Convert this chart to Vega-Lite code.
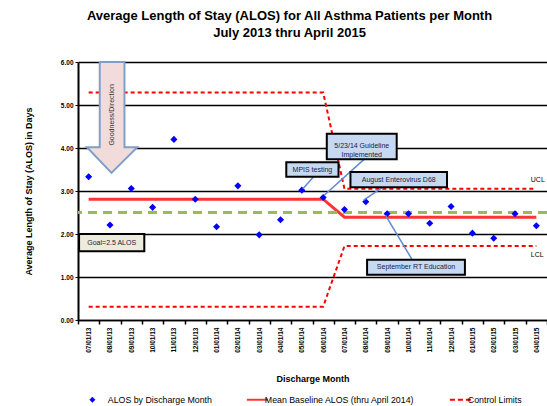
{
  "$schema": "https://vega.github.io/schema/vega-lite/v6.json",
  "width": 469,
  "height": 258,
  "autosize": {"type": "none"},
  "padding": {"left": 78, "top": 62, "right": 0, "bottom": 86},
  "background": "white",
  "config": {"font": "Liberation Sans", "view": {"stroke": null}},
  "title": {
    "text": ["Average Length of Stay (ALOS) for All Asthma Patients per Month", "July 2013 thru April 2015"],
    "fontSize": 13, "fontWeight": "bold", "color": "#000", "anchor": "middle", "dx": -23, "offset": 18, "lineHeight": 17, "frame": "group"
  },
  "datasets": {
    "main": [
      {"month": "07/01/13", "alos": 3.33, "mean": 2.81, "ucl": 5.29, "lcl": 0.31},
      {"month": "08/01/13", "alos": 2.21, "mean": 2.81, "ucl": 5.29, "lcl": 0.31},
      {"month": "09/01/13", "alos": 3.06, "mean": 2.81, "ucl": 5.29, "lcl": 0.31},
      {"month": "10/01/13", "alos": 2.62, "mean": 2.81, "ucl": 5.29, "lcl": 0.31},
      {"month": "11/01/13", "alos": 4.20, "mean": 2.81, "ucl": 5.29, "lcl": 0.31},
      {"month": "12/01/13", "alos": 2.81, "mean": 2.81, "ucl": 5.29, "lcl": 0.31},
      {"month": "01/01/14", "alos": 2.17, "mean": 2.81, "ucl": 5.29, "lcl": 0.31},
      {"month": "02/01/14", "alos": 3.12, "mean": 2.81, "ucl": 5.29, "lcl": 0.31},
      {"month": "03/01/14", "alos": 1.98, "mean": 2.81, "ucl": 5.29, "lcl": 0.31},
      {"month": "04/01/14", "alos": 2.33, "mean": 2.81, "ucl": 5.29, "lcl": 0.31},
      {"month": "05/01/14", "alos": 3.02, "mean": 2.81, "ucl": 5.29, "lcl": 0.31},
      {"month": "06/01/14", "alos": 2.85, "mean": 2.81, "ucl": 5.29, "lcl": 0.31},
      {"month": "07/01/14", "alos": 2.57, "mean": 2.39, "ucl": 3.05, "lcl": 1.72},
      {"month": "08/01/14", "alos": 2.75, "mean": 2.39, "ucl": 3.05, "lcl": 1.72},
      {"month": "09/01/14", "alos": 2.47, "mean": 2.39, "ucl": 3.05, "lcl": 1.72},
      {"month": "10/01/14", "alos": 2.47, "mean": 2.39, "ucl": 3.05, "lcl": 1.72},
      {"month": "11/01/14", "alos": 2.25, "mean": 2.39, "ucl": 3.05, "lcl": 1.72},
      {"month": "12/01/14", "alos": 2.64, "mean": 2.39, "ucl": 3.05, "lcl": 1.72},
      {"month": "01/01/15", "alos": 2.02, "mean": 2.39, "ucl": 3.05, "lcl": 1.72},
      {"month": "02/01/15", "alos": 1.90, "mean": 2.39, "ucl": 3.05, "lcl": 1.72},
      {"month": "03/01/15", "alos": 2.47, "mean": 2.39, "ucl": 3.05, "lcl": 1.72},
      {"month": "04/01/15", "alos": 2.19, "mean": 2.39, "ucl": 3.05, "lcl": 1.72}
    ],
    "arrow": [
      {"i": 0, "x": 1.02, "y": 6.0},
      {"i": 1, "x": 2.18, "y": 6.0},
      {"i": 2, "x": 2.18, "y": 4.02},
      {"i": 3, "x": 2.78, "y": 4.02},
      {"i": 4, "x": 1.57, "y": 3.42},
      {"i": 5, "x": 0.42, "y": 4.02},
      {"i": 6, "x": 1.02, "y": 4.02},
      {"i": 7, "x": 1.02, "y": 6.0}
    ],
    "boxes": [
      {"x1": 0.05, "x2": 3.11, "y1": 2.0, "y2": 1.6, "label": "Goal=2.5 ALOS", "fill": "#ecebdc"},
      {"x1": 9.77, "x2": 12.22, "y1": 3.67, "y2": 3.33, "label": "MPIS testing", "fill": "#c6d9f1"},
      {"x1": 11.67, "x2": 14.95, "y1": 4.33, "y2": 3.74, "label": "5/23/14 Guideline\nImplemented", "fill": "#c6d9f1"},
      {"x1": 12.78, "x2": 17.31, "y1": 3.44, "y2": 3.09, "label": "August Enterovirus D68", "fill": "#c6d9f1"},
      {"x1": 13.56, "x2": 18.15, "y1": 1.40, "y2": 1.05, "label": "September RT Education", "fill": "#c6d9f1"}
    ],
    "connectors": [
      {"xa": 11.05, "ya": 3.33, "xb": 10.55, "yb": 3.05},
      {"xa": 13.43, "ya": 3.74, "xb": 11.55, "yb": 2.9},
      {"xa": 14.3, "ya": 3.09, "xb": 13.4, "yb": 2.79},
      {"xa": 15.68, "ya": 1.40, "xb": 14.42, "yb": 2.44}
    ],
    "limitLabels": [
      {"x": 21.24, "y": 3.26, "label": "UCL"},
      {"x": 21.24, "y": 1.51, "label": "LCL"}
    ],
    "arrowText": [
      {"x": 1.6, "y": 4.77, "label": "Goodness/Direction"}
    ]
  },
  "layer": [
    {
      "layer": [
        {
          "data": {"name": "main"},
          "mark": {"type": "line", "color": "#ff0000", "strokeWidth": 2, "strokeDash": [4, 3]},
          "encoding": {
            "x": {"field": "month", "type": "ordinal", "sort": null, "title": "Discharge Month",
              "scale": {"paddingInner": 0, "paddingOuter": 0},
              "axis": {"tickBand": "extent", "labelAngle": 270, "labelFontSize": 6.5, "labelFontWeight": "bold", "labelColor": "#000",
                "domainColor": "#000", "domainWidth": 1.5, "tickColor": "#000", "tickWidth": 1.5, "tickSize": 4, "labelPadding": 3,
                "titleFontSize": 9, "titleFontWeight": "bold", "titlePadding": 22, "titleColor": "#000", "grid": false}},
            "y": {"field": "ucl", "type": "quantitative", "title": "Average Length of Stay (ALOS) in Days",
              "scale": {"domain": [0, 6], "nice": false},
              "axis": {"values": [0, 1, 2, 3, 4, 5, 6], "format": ".2f", "grid": true, "gridColor": "#000", "gridWidth": 1.5, "gridOpacity": 1,
                "labelFontSize": 6.5, "labelFontWeight": "bold", "labelColor": "#000", "domainColor": "#000", "domainWidth": 2,
                "tickColor": "#000", "tickSize": 3, "labelPadding": 2, "titleFontSize": 9, "titleFontWeight": "bold", "titlePadding": 27, "titleColor": "#000"}},
            "color": {"datum": "Control Limits", "type": "nominal",
              "scale": {"domain": ["ALOS by Discharge Month", "Mean Baseline ALOS (thru April 2014)", "Control Limits"], "range": ["#0000ff", "#ff3333", "#ff0000"]},
              "legend": {"orient": "none", "legendX": 10, "legendY": 333, "direction": "horizontal", "title": null, "symbolSize": 441,
                "labelFontSize": 8.8, "labelColor": "#000", "labelOffset": 3, "labelBaseline": "middle", "columnPadding": 30, "symbolStrokeWidth": 2,
                "encode": {
                  "symbols": {"update": {
                    "shape": {"signal": "datum.value === 'ALOS by Discharge Month' ? 'diamond' : 'stroke'"},
                    "size": {"signal": "datum.value === 'ALOS by Discharge Month' ? 30 : 441"},
                    "fill": {"signal": "datum.value === 'ALOS by Discharge Month' ? '#0000ff' : 'transparent'"},
                    "stroke": {"signal": "datum.value === 'ALOS by Discharge Month' ? '#0000ff' : '#ff0000'"},
                    "strokeDash": {"signal": "datum.value === 'Control Limits' ? [5, 3] : [1, 0]"},
                    "strokeWidth": {"signal": "datum.value === 'ALOS by Discharge Month' ? 0.5 : 2"},
                    "opacity": {"value": 1}
                  }},
                  "labels": {"update": {
                    "dx": {"signal": "datum.value === 'ALOS by Discharge Month' ? 8 : 0"}
                  }}
                }}}
          }
        },
        {
          "data": {"name": "main"},
          "mark": {"type": "line", "color": "#ff0000", "strokeWidth": 2, "strokeDash": [4, 3]},
          "encoding": {
            "x": {"field": "month", "type": "ordinal", "sort": null, "title": "Discharge Month"},
            "y": {"field": "lcl", "type": "quantitative", "title": "Average Length of Stay (ALOS) in Days"},
            "color": {"datum": "Control Limits", "type": "nominal"}
          }
        },
        {
          "data": {"name": "main"},
          "mark": {"type": "line", "strokeWidth": 3},
          "encoding": {
            "x": {"field": "month", "type": "ordinal", "sort": null, "title": "Discharge Month"},
            "y": {"field": "mean", "type": "quantitative", "title": "Average Length of Stay (ALOS) in Days"},
            "color": {"datum": "Mean Baseline ALOS (thru April 2014)", "type": "nominal"}
          }
        },
        {
          "data": {"name": "main"},
          "mark": {"type": "rule", "color": "#9bbb59", "strokeWidth": 2.5, "strokeDash": [9, 6]},
          "encoding": {
            "y": {"datum": 2.5, "type": "quantitative"}
          }
        },
        {
          "data": {"name": "main"},
          "mark": {"type": "point", "shape": "diamond", "filled": true, "size": 50, "opacity": 1},
          "encoding": {
            "x": {"field": "month", "type": "ordinal", "sort": null, "title": "Discharge Month"},
            "y": {"field": "alos", "type": "quantitative", "title": "Average Length of Stay (ALOS) in Days"},
            "color": {"datum": "ALOS by Discharge Month", "type": "nominal"}
          }
        }
      ]
    },
    {
      "layer": [
        {
          "data": {"name": "arrow"},
          "mark": {"type": "line", "fill": "#f2dcdb", "stroke": "#7f9fc7", "strokeWidth": 2, "opacity": 1},
          "encoding": {
            "x": {"field": "x", "type": "quantitative", "scale": {"domain": [0, 22], "nice": false, "zero": false}, "axis": null},
            "y": {"field": "y", "type": "quantitative", "title": "Average Length of Stay (ALOS) in Days"},
            "order": {"field": "i", "type": "quantitative"}
          }
        },
        {
          "data": {"name": "arrowText"},
          "mark": {"type": "text", "angle": 270, "fontSize": 7, "color": "#333333", "align": "center", "baseline": "middle"},
          "encoding": {
            "x": {"field": "x", "type": "quantitative"},
            "y": {"field": "y", "type": "quantitative", "title": "Average Length of Stay (ALOS) in Days"},
            "text": {"field": "label"}
          }
        },
        {
          "data": {"name": "connectors"},
          "mark": {"type": "rule", "color": "#5b8bd0", "strokeWidth": 1.5},
          "encoding": {
            "x": {"field": "xa", "type": "quantitative"},
            "x2": {"field": "xb"},
            "y": {"field": "ya", "type": "quantitative", "title": "Average Length of Stay (ALOS) in Days"},
            "y2": {"field": "yb"}
          }
        },
        {
          "data": {"name": "boxes"},
          "mark": {"type": "rect", "stroke": "#000", "strokeWidth": 2},
          "encoding": {
            "x": {"field": "x1", "type": "quantitative"},
            "x2": {"field": "x2"},
            "y": {"field": "y1", "type": "quantitative", "title": "Average Length of Stay (ALOS) in Days"},
            "y2": {"field": "y2"},
            "fill": {"field": "fill", "type": "nominal", "scale": null}
          }
        },
        {
          "data": {"name": "boxes"},
          "transform": [{"calculate": "(datum.x1 + datum.x2) / 2", "as": "xc"}, {"calculate": "(datum.y1 + datum.y2) / 2", "as": "yc"}],
          "mark": {"type": "text", "fontSize": 7, "color": "#1a1a3a", "align": "center", "baseline": "middle", "lineBreak": "\n", "lineHeight": 9},
          "encoding": {
            "x": {"field": "xc", "type": "quantitative"},
            "y": {"field": "yc", "type": "quantitative", "title": "Average Length of Stay (ALOS) in Days"},
            "text": {"field": "label"}
          }
        },
        {
          "data": {"name": "limitLabels"},
          "mark": {"type": "text", "fontSize": 7, "color": "#000", "align": "left", "baseline": "middle"},
          "encoding": {
            "x": {"field": "x", "type": "quantitative"},
            "y": {"field": "y", "type": "quantitative", "title": "Average Length of Stay (ALOS) in Days"},
            "text": {"field": "label"}
          }
        }
      ]
    }
  ],
  "resolve": {"scale": {"x": "independent"}}
}
